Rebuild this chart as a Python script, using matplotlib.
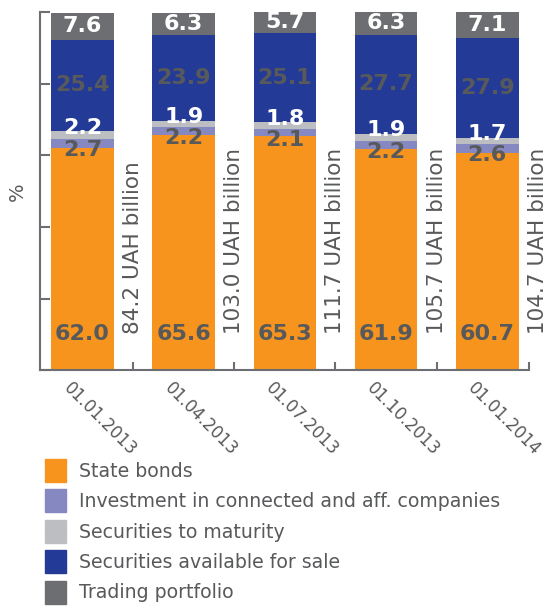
import matplotlib.pyplot as plt
import numpy as np
from matplotlib.patches import Patch
from matplotlib.transforms import ScaledTranslation

dates = ['01.01.2013', '01.04.2013', '01.07.2013', '01.10.2013', '01.01.2014']
totals = [84.2, 103.0, 111.7, 105.7, 104.7]  # UAH billion

state_bonds = [62.0, 65.6, 65.3, 61.9, 60.7]
investment = [2.7, 2.2, 2.1, 2.2, 2.6]
to_maturity = [2.2, 1.9, 1.8, 1.9, 1.7]
for_sale = [25.4, 23.9, 25.1, 27.7, 27.9]
trading = [7.6, 6.3, 5.7, 6.3, 7.1]

names = ['State bonds', 'Investment in connected and aff. companies',
         'Securities to maturity', 'Securities available for sale',
         'Trading portfolio']
colors = ['#F7941D', '#8688C2', '#BDBEC2', '#233A96', '#6D6E71']
label_colors = ['#58595B', '#58595B', 'white', '#58595B', 'white']
label_offsets = [0, -5, 5, 0, 0]  # points, nudges the thin segments apart

gray = '#6D6E71'
text_gray = '#58595B'

fig = plt.figure(figsize=(5.56, 6.10), dpi=100)
ax = fig.add_axes([0.072, 0.393, 0.879, 0.587])

x = np.arange(len(dates))
series = [state_bonds, investment, to_maturity, for_sale, trading]
bottom = np.zeros(len(dates))
for k, vals in enumerate(series):
    vals = np.array(vals)
    ax.bar(x, vals, 0.62, bottom=bottom, color=colors[k], label=names[k])
    for i, v in enumerate(vals):
        if k == 0:
            ypos = 10  # state bonds values sit near the base
        else:
            ypos = bottom[i] + v / 2
        ax.annotate(f'{v:.1f}', (x[i], ypos), xytext=(0, label_offsets[k]),
                    textcoords='offset points', ha='center', va='center',
                    fontsize=16, fontweight='bold', color=label_colors[k])
    bottom += vals

# portfolio size next to each bar
for i, t in enumerate(totals):
    ax.text(x[i] + 0.5, 10, f'{t:.1f} UAH billion', rotation=90,
            ha='center', va='bottom', fontsize=15.5, color=text_gray)

ax.set_xlim(-0.42, 4.41)
ax.set_ylim(0, 100)
ax.set_yticks(np.arange(0, 101, 20))
ax.set_yticklabels([])
ax.tick_params(axis='y', direction='in', length=7, width=1.5, color=gray)

ax.set_xticks(x)
ax.set_xticklabels(dates, rotation=-45, ha='left', va='top',
                   rotation_mode='anchor', fontsize=12, color=text_gray)
ax.tick_params(axis='x', length=0, pad=6)
shift = ScaledTranslation(-10 / 100, 0, fig.dpi_scale_trans)
for lbl in ax.get_xticklabels():
    lbl.set_transform(lbl.get_transform() + shift)
ax.set_xticks(list(x[:-1] + 0.5) + [4.41], minor=True)
ax.tick_params(axis='x', which='minor', direction='in', length=6,
               width=1.5, color=gray)

ax.set_ylabel('%', fontsize=14, color=text_gray, labelpad=6)

for side in ['top', 'right']:
    ax.spines[side].set_visible(False)
for side in ['left', 'bottom']:
    ax.spines[side].set_color(gray)
    ax.spines[side].set_linewidth(1.5)

handles = [Patch(color=c) for c in colors]
fig.legend(handles, names, loc='upper left',
           bbox_to_anchor=(45 / 556, 1 - 459 / 610), frameon=False,
           fontsize=13.6, handlelength=1.1, handleheight=1.5,
           handletextpad=0.7, labelspacing=0.39, borderpad=0,
           borderaxespad=0, labelcolor=text_gray)

fig.savefig('out.png', dpi=100)
